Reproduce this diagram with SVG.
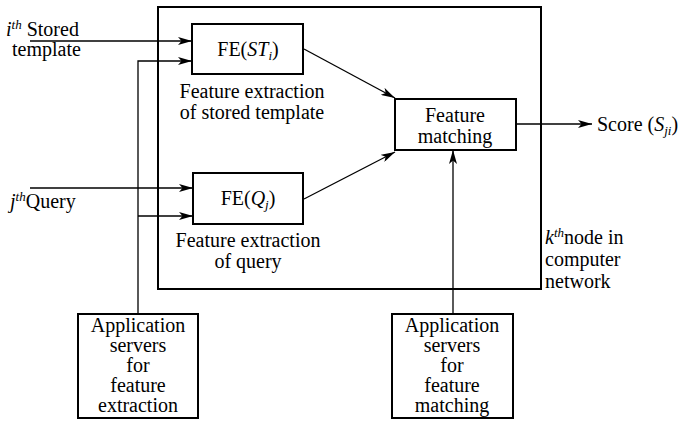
<svg xmlns="http://www.w3.org/2000/svg" width="684" height="422" viewBox="0 0 684 422" font-family="'Liberation Serif', 'Times New Roman', serif" font-size="20">
<defs>
<marker id="ah" viewBox="0 0 14 8" refX="14" refY="4" markerWidth="14" markerHeight="8" markerUnits="userSpaceOnUse" orient="auto">
<path d="M0,0 L14,4 L0,8 L3.5,4 z" fill="#000"/>
</marker>
</defs>
<rect id="node-frame" x="158" y="7" width="383" height="282" fill="none" stroke="#000" stroke-width="2"/>
<g id="connectors" fill="none" stroke="#000" stroke-width="1.3">
<path d="M30,41 H192" marker-end="url(#ah)"/>
<path d="M138,314 V61 H192" marker-end="url(#ah)"/>
<path d="M30,188 H193" marker-end="url(#ah)"/>
<path d="M138,216 H193" marker-end="url(#ah)"/>
<path d="M304,49 L395,98" marker-end="url(#ah)"/>
<path d="M304,199 L395,152" marker-end="url(#ah)"/>
<path d="M516,124 H592" marker-end="url(#ah)"/>
<path d="M453,314 V150" marker-end="url(#ah)"/>
</g>
<g id="fe-st">
<rect x="192" y="24" width="111" height="50" fill="#fff" stroke="#000" stroke-width="2"/>
<text x="248" y="56" text-anchor="middle" font-family="Times New Roman">FE(<tspan font-style="italic">ST</tspan><tspan font-style="italic" font-size="13" dy="4">i</tspan><tspan dy="-4">)</tspan></text>
<text x="252" y="98" text-anchor="middle" font-family="Times New Roman">Feature extraction</text>
<text x="252" y="119" text-anchor="middle" font-family="Times New Roman">of stored template</text>
</g>
<g id="fe-q">
<rect x="193" y="173" width="110" height="51" fill="#fff" stroke="#000" stroke-width="2"/>
<text x="248" y="205" text-anchor="middle" font-family="Times New Roman">FE(<tspan font-style="italic">Q</tspan><tspan font-style="italic" font-size="13" dy="4">j</tspan><tspan dy="-4">)</tspan></text>
<text x="248" y="247" text-anchor="middle" font-family="Times New Roman">Feature extraction</text>
<text x="248" y="268" text-anchor="middle" font-family="Times New Roman">of query</text>
</g>
<g id="fm">
<rect x="395" y="99" width="121" height="51" fill="#fff" stroke="#000" stroke-width="2"/>
<text x="455" y="122" text-anchor="middle" font-family="Times New Roman">Feature</text>
<text x="455" y="143" text-anchor="middle" font-family="Times New Roman">matching</text>
</g>
<g id="input-st">
<text x="6" y="36" font-family="Times New Roman"><tspan font-style="italic">i</tspan><tspan font-style="italic" font-size="13" dy="-7">th</tspan><tspan dy="7"> Stored</tspan></text>
<text x="12" y="56" font-family="Times New Roman">template</text>
</g>
<g id="input-q">
<text x="10" y="208" font-family="Times New Roman"><tspan font-style="italic">j</tspan><tspan font-style="italic" font-size="13" dy="-7">th</tspan><tspan dy="7">Query</tspan></text>
</g>
<g id="score">
<text x="597" y="131" font-family="Times New Roman">Score (<tspan font-style="italic">S</tspan><tspan font-style="italic" font-size="13" dy="4">ji</tspan><tspan dy="-4">)</tspan></text>
</g>
<g id="node-label">
<text x="545" y="244" font-family="Times New Roman"><tspan font-style="italic">k</tspan><tspan font-style="italic" font-size="13" dy="-7">th</tspan><tspan dy="7">node in</tspan></text>
<text x="545" y="266" font-family="Times New Roman">computer</text>
<text x="545" y="288" font-family="Times New Roman">network</text>
</g>
<g id="app-fe">
<rect x="78" y="314" width="120" height="104" fill="#fff" stroke="#000" stroke-width="2"/>
<text x="138" y="332" text-anchor="middle" font-family="Times New Roman">Application</text>
<text x="138" y="352" text-anchor="middle" font-family="Times New Roman">servers</text>
<text x="138" y="372" text-anchor="middle" font-family="Times New Roman">for</text>
<text x="138" y="392" text-anchor="middle" font-family="Times New Roman">feature</text>
<text x="138" y="412" text-anchor="middle" font-family="Times New Roman">extraction</text>
</g>
<g id="app-fm">
<rect x="392" y="314" width="121" height="104" fill="#fff" stroke="#000" stroke-width="2"/>
<text x="452" y="332" text-anchor="middle" font-family="Times New Roman">Application</text>
<text x="452" y="352" text-anchor="middle" font-family="Times New Roman">servers</text>
<text x="452" y="372" text-anchor="middle" font-family="Times New Roman">for</text>
<text x="452" y="392" text-anchor="middle" font-family="Times New Roman">feature</text>
<text x="452" y="412" text-anchor="middle" font-family="Times New Roman">matching</text>
</g>
</svg>
